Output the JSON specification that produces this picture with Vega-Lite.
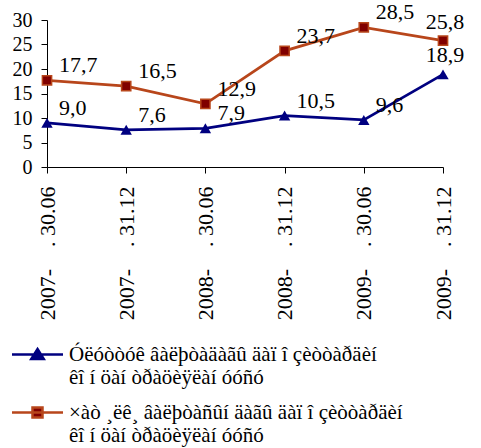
{
  "$schema": "https://vega.github.io/schema/vega-lite/v6.json",
  "width": 396,
  "height": 147,
  "autosize": "none",
  "padding": {"left": 47, "top": 20, "right": 38, "bottom": 281},
  "config": {
    "view": {"stroke": null},
    "font": "Liberation Serif",
    "locale": {"number": {"decimal": ",", "thousands": " ", "grouping": [3], "currency": ["", ""]}},
    "axis": {
      "domainColor": "black", "tickColor": "black", "tickSize": 6, "domainWidth": 1, "tickWidth": 1,
      "labelFont": "Liberation Serif", "labelFontSize": 20, "labelColor": "black", "grid": false, "title": null
    }
  },
  "data": {"values": [
    {"date": "2007-\u00a0\u00a0\u00a0\u00a0. 30.06", "series": "Óëóòòóê âàëþòàäàãû äàï î çèòòàðäèí\nêî í öàí òðàöèÿëàí óóñó", "value": 9.0},
    {"date": "2007-\u00a0\u00a0\u00a0\u00a0. 31.12", "series": "Óëóòòóê âàëþòàäàãû äàï î çèòòàðäèí\nêî í öàí òðàöèÿëàí óóñó", "value": 7.6},
    {"date": "2008-\u00a0\u00a0\u00a0\u00a0. 30.06", "series": "Óëóòòóê âàëþòàäàãû äàï î çèòòàðäèí\nêî í öàí òðàöèÿëàí óóñó", "value": 7.9},
    {"date": "2008-\u00a0\u00a0\u00a0\u00a0. 31.12", "series": "Óëóòòóê âàëþòàäàãû äàï î çèòòàðäèí\nêî í öàí òðàöèÿëàí óóñó", "value": 10.5},
    {"date": "2009-\u00a0\u00a0\u00a0\u00a0. 30.06", "series": "Óëóòòóê âàëþòàäàãû äàï î çèòòàðäèí\nêî í öàí òðàöèÿëàí óóñó", "value": 9.6},
    {"date": "2009-\u00a0\u00a0\u00a0\u00a0. 31.12", "series": "Óëóòòóê âàëþòàäàãû äàï î çèòòàðäèí\nêî í öàí òðàöèÿëàí óóñó", "value": 18.9},
    {"date": "2007-\u00a0\u00a0\u00a0\u00a0. 30.06", "series": "×àò ¸ëê¸ âàëþòàñûí äàãû äàï î çèòòàðäèí\nêî í öàí òðàöèÿëàí óóñó", "value": 17.7},
    {"date": "2007-\u00a0\u00a0\u00a0\u00a0. 31.12", "series": "×àò ¸ëê¸ âàëþòàñûí äàãû äàï î çèòòàðäèí\nêî í öàí òðàöèÿëàí óóñó", "value": 16.5},
    {"date": "2008-\u00a0\u00a0\u00a0\u00a0. 30.06", "series": "×àò ¸ëê¸ âàëþòàñûí äàãû äàï î çèòòàðäèí\nêî í öàí òðàöèÿëàí óóñó", "value": 12.9},
    {"date": "2008-\u00a0\u00a0\u00a0\u00a0. 31.12", "series": "×àò ¸ëê¸ âàëþòàñûí äàãû äàï î çèòòàðäèí\nêî í öàí òðàöèÿëàí óóñó", "value": 23.7},
    {"date": "2009-\u00a0\u00a0\u00a0\u00a0. 30.06", "series": "×àò ¸ëê¸ âàëþòàñûí äàãû äàï î çèòòàðäèí\nêî í öàí òðàöèÿëàí óóñó", "value": 28.5},
    {"date": "2009-\u00a0\u00a0\u00a0\u00a0. 31.12", "series": "×àò ¸ëê¸ âàëþòàñûí äàãû äàï î çèòòàðäèí\nêî í öàí òðàöèÿëàí óóñó", "value": 25.8}
  ]},
  "encoding": {
    "x": {"field": "date", "type": "ordinal", "sort": null,
      "scale": {"type": "point", "padding": 0},
      "axis": {"labelAngle": -90, "labelPadding": 13, "labelFontSize": 22}},
    "y": {"field": "value", "type": "quantitative",
      "scale": {"domain": [0, 30], "nice": false},
      "axis": {"values": [0, 5, 10, 15, 20, 25, 30], "labelPadding": 9}}
  },
  "layer": [
    {
      "transform": [{"filter": "indexof(datum.series, 'Ó') == 0"}],
      "mark": {"type": "line", "strokeWidth": 2.75, "stroke": "#000080"},
      "encoding": {}
    },
    {
      "transform": [{"filter": "indexof(datum.series, 'Ó') != 0"}],
      "mark": {"type": "line", "strokeWidth": 2.75, "stroke": "#B8461B"},
      "encoding": {}
    },
    {
      "transform": [{"filter": "indexof(datum.series, 'Ó') == 0"}],
      "mark": {"type": "point", "shape": "triangle-up", "filled": true, "fill": "#000080", "opacity": 1, "size": 130}
    },
    {
      "transform": [{"filter": "indexof(datum.series, 'Ó') != 0"}],
      "mark": {"type": "point", "shape": "square", "filled": true, "fill": "#800000", "stroke": "#B8461B", "strokeWidth": 1.5, "opacity": 1, "size": 85}
    },
    {
      "mark": {"type": "point", "filled": true, "opacity": 0},
      "encoding": {
        "shape": {"field": "series", "type": "nominal", "sort": null,
          "scale": {"range": ["M-5.1,0H5.1M0,-1.1L1.25,0.9H-1.25Z", "M-5.1,0H5.1M-1,-1H1V1H-1Z"]},
          "legend": {"orient": "none", "legendX": -20, "legendY": 324, "direction": "vertical", "title": null,
            "symbolOpacity": 1, "symbolSize": 100, "symbolStrokeWidth": 2.5,
            "labelFont": "Liberation Serif", "labelFontSize": 21, "labelColor": "black",
            "labelExpr": "split(datum.label, '\\n')", "labelBaseline": "middle", "labelLimit": 0,
            "labelOffset": 21, "rowPadding": 13, "padding": 0}},
        "fill": {"field": "series", "type": "nominal", "sort": null,
          "scale": {"range": ["#000080", "#800000"]}},
        "stroke": {"field": "series", "type": "nominal", "sort": null,
          "scale": {"range": ["#000080", "#B8461B"]}}
      }
    },
    {
      "transform": [{"filter": "indexof(datum.date, '31.12') < 0 || indexof(datum.date, '2009') < 0"}],
      "mark": {"type": "text", "align": "left", "baseline": "middle", "dx": 12, "dy": -15, "fontSize": 22, "font": "Liberation Serif", "color": "black"},
      "encoding": {"text": {"field": "value", "type": "quantitative", "format": ".1f"}}
    },
    {
      "transform": [{"filter": "indexof(datum.date, '31.12') >= 0 && indexof(datum.date, '2009') >= 0"}],
      "mark": {"type": "text", "align": "center", "baseline": "middle", "dx": 2, "dy": -19, "fontSize": 22, "font": "Liberation Serif", "color": "black"},
      "encoding": {"text": {"field": "value", "type": "quantitative", "format": ".1f"}}
    }
  ]
}
